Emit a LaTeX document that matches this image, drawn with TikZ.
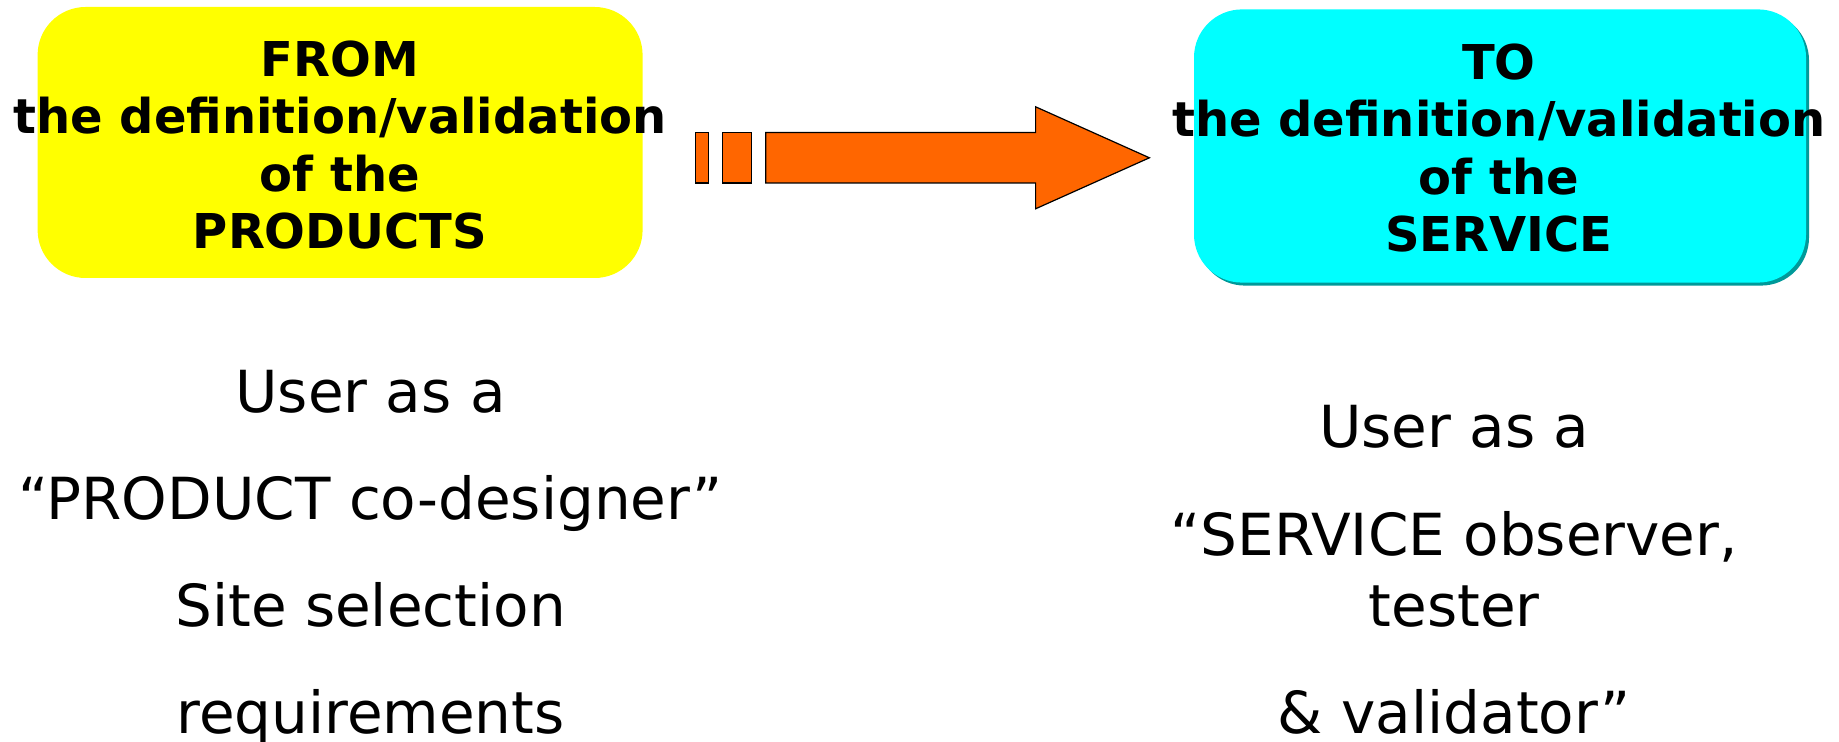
\documentclass[tikz,border=0pt]{standalone}
\usepackage{fontspec}
\setmainfont{DejaVu Sans}
\definecolor{boxyellow}{HTML}{FFFF00}
\definecolor{boxcyan}{HTML}{00FFFF}
\definecolor{cyanshade}{HTML}{009999}
\definecolor{arroworange}{HTML}{FF6600}
\begin{document}
\begin{tikzpicture}[x=1pt,y=1pt,
  titletext/.style={align=center,font=\fontsize{24}{28.8}\selectfont\bfseries,inner sep=0pt},
  bodytext/.style={anchor=base,font=\fontsize{29}{35}\selectfont,inner sep=0pt},
  arrowpart/.style={fill=arroworange,draw=black,line width=0.6pt}]
\useasboundingbox (0,0) rectangle (919.5,-371);
% boxes
\fill[boxyellow,rounded corners=24pt] (18.8,-3.5) rectangle (321.3,-139);
\fill[cyanshade,rounded corners=24pt] (598.5,-6.2) rectangle (904.5,-142.8);
\fill[boxcyan,rounded corners=24pt] (597,-4.7) rectangle (903,-141.3);
\node[titletext] (from) at (170,-72.5) {FROM\\the definition/validation\\of the\\PRODUCTS};
\node[titletext] (to) at (749.4,-74) {TO\\the definition/validation\\of the\\SERVICE};
% arrow
\draw[arrowpart] (347.7,-66.3) rectangle (354.2,-91.5);
\draw[arrowpart] (361.2,-66.3) rectangle (375.9,-91.5);
\draw[arrowpart] (382.9,-66.3) -- (517.8,-66.3) -- (517.8,-53.4) -- (574.7,-78.9)
  -- (517.8,-104.4) -- (517.8,-91.5) -- (382.9,-91.5) -- cycle;
% lower text left
\node[bodytext] (l1) at (185.3,-206.4) {User as a};
\node[bodytext] (l2) at (185.3,-259.7) {“PRODUCT co-designer”};
\node[bodytext] (l3) at (185.3,-313.1) {Site selection};
\node[bodytext] (l4) at (185.3,-366.5) {requirements};
% lower text right
\node[bodytext] (r1) at (727.1,-223.9) {User as a};
\node[bodytext] (r2) at (727.1,-277.9) {“SERVICE observer,};
\node[bodytext] (r3) at (727.1,-313.1) {tester};
\node[bodytext] (r4) at (727.1,-366.5) {\& validator”};
\end{tikzpicture}
\end{document}
